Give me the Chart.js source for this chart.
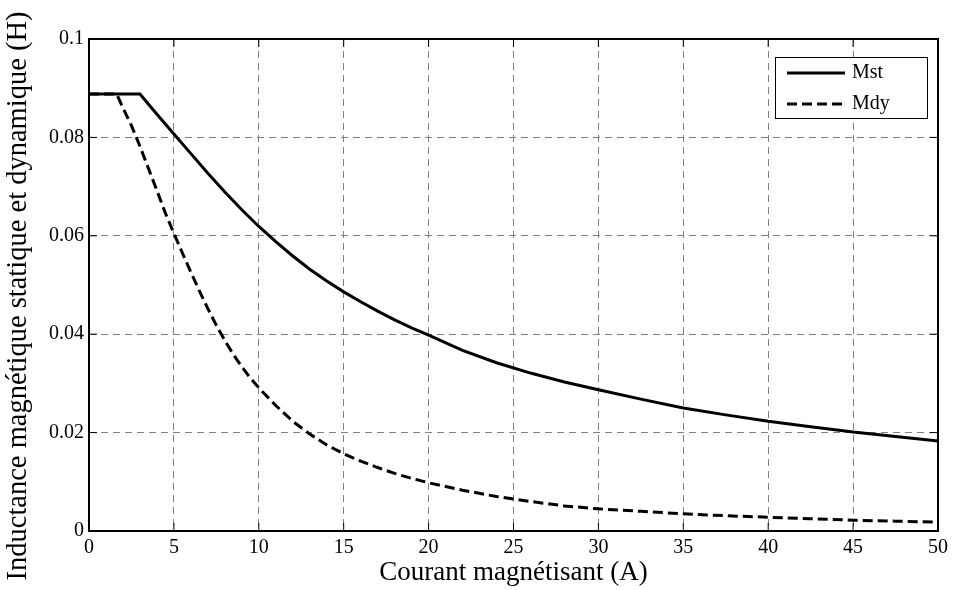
<!DOCTYPE html>
<html>
<head>
<meta charset="utf-8">
<script src="https://cdn.jsdelivr.net/npm/chart.js@4.4.1/dist/chart.umd.min.js"></script>
<style>
  html, body { margin: 0; padding: 0; background: #ffffff; }
  #wrap { width: 953px; height: 590px; position: relative; }
</style>
</head>
<body>
<div id="wrap"><canvas id="c"></canvas></div>
<script>
// ---- Data ----
const mstX = [0, 3, 4, 5, 6, 7, 8, 9, 10, 11, 12, 13, 14, 15, 16, 17, 18, 19, 20, 22, 24, 26, 28, 30, 32.5, 35, 37.5, 40, 42.5, 45, 47.5, 50];
const mstY = [0.0888, 0.0888, 0.0847, 0.0807, 0.0767, 0.0727, 0.0689, 0.0653, 0.0619, 0.0588, 0.0559, 0.0532, 0.0508, 0.0486, 0.0466, 0.0447, 0.0429, 0.0413, 0.0398, 0.0367, 0.0342, 0.0321, 0.0303, 0.0287, 0.0268, 0.0250, 0.0236, 0.0223, 0.0212, 0.0201, 0.0192, 0.0183];

const mdyX = [0, 1.63, 2, 2.5, 3, 3.5, 4, 4.5, 5, 5.5, 6, 6.5, 7, 7.5, 8, 8.5, 9, 9.5, 10, 11, 12, 13, 14, 15, 16, 17, 18, 19, 20, 22, 24, 26, 28, 30, 32.5, 35, 37.5, 40, 42.5, 45, 47.5, 50];
const mdyY = [0.0888, 0.0888, 0.0860, 0.0824, 0.0782, 0.0737, 0.0692, 0.0646, 0.0605, 0.0565, 0.0526, 0.0488, 0.0452, 0.0418, 0.0387, 0.0359, 0.0334, 0.0311, 0.0291, 0.0255, 0.0223, 0.0197, 0.0175, 0.0157, 0.0142, 0.0129, 0.0117, 0.0107, 0.0098, 0.0083, 0.0070, 0.0060, 0.0051, 0.0045, 0.0040, 0.0035, 0.0031, 0.0028, 0.0025, 0.0022, 0.0020, 0.0018];

const seriesNames = ['Mst', 'Mdy'];
const xTickValues = [0, 5, 10, 15, 20, 25, 30, 35, 40, 45, 50];
const yTickValues = [0, 0.02, 0.04, 0.06, 0.08, 0.1];
const xTitle = 'Courant magnétisant (A)';
const yTitle = 'Inductance magnétique statique et dynamique (H)';

const FONT = "'Liberation Serif', 'Times New Roman', serif";

function toPoints(xs, ys) { return xs.map((x, i) => ({ x: x, y: ys[i] })); }

// Frame, inner ticks, y title and legend box
const framePlugin = {
  id: 'frame',
  afterDraw(chart) {
    const { ctx, chartArea: a } = chart;
    const xs = chart.scales.x, ys = chart.scales.y;
    ctx.save();
    ctx.strokeStyle = '#000';
    ctx.lineWidth = 2;
    ctx.setLineDash([]);
    ctx.strokeRect(a.left, a.top, a.right - a.left, a.bottom - a.top);
    ctx.lineWidth = 1;
    const tl = 8;
    xs.ticks.forEach(t => {
      const px = xs.getPixelForValue(t.value);
      ctx.beginPath();
      ctx.moveTo(px, a.bottom); ctx.lineTo(px, a.bottom - tl);
      ctx.moveTo(px, a.top); ctx.lineTo(px, a.top + tl);
      ctx.stroke();
    });
    ys.ticks.forEach(t => {
      const py = ys.getPixelForValue(t.value);
      ctx.beginPath();
      ctx.moveTo(a.left, py); ctx.lineTo(a.left + tl, py);
      ctx.moveTo(a.right, py); ctx.lineTo(a.right - tl, py);
      ctx.stroke();
    });

    // y axis title
    ctx.save();
    ctx.translate(19, 296);
    ctx.rotate(-Math.PI / 2);
    ctx.font = "28.5px " + FONT;
    ctx.fillStyle = '#000';
    ctx.textAlign = 'center';
    ctx.textBaseline = 'middle';
    ctx.fillText(yTitle, 0, 0);
    ctx.restore();

    // legend
    const bx = 775, by = 57, bw = 152, bh = 61;
    ctx.fillStyle = '#fff';
    ctx.fillRect(bx, by, bw, bh);
    ctx.lineWidth = 1;
    ctx.strokeStyle = '#000';
    ctx.strokeRect(bx + 0.5, by + 0.5, bw, bh);
    ctx.font = "20px " + FONT;
    ctx.fillStyle = '#000';
    ctx.textBaseline = 'middle';
    ctx.textAlign = 'left';
    chart.data.datasets.forEach((ds, i) => {
      const y = by + 16 + i * 31;
      ctx.beginPath();
      ctx.lineWidth = 3;
      ctx.setLineDash(ds.borderDash || []);
      ctx.moveTo(bx + 12, y); ctx.lineTo(bx + 70, y);
      ctx.stroke();
      ctx.setLineDash([]);
      ctx.fillText(ds.label, bx + 77, y);
    });
    ctx.restore();
  }
};

new Chart(document.getElementById('c'), {
  type: 'scatter',
  data: {
    datasets: [
      {
        label: seriesNames[0],
        data: toPoints(mstX, mstY),
        showLine: true,
        borderColor: '#000',
        borderWidth: 3,
        pointRadius: 0,
        tension: 0,
        fill: false
      },
      {
        label: seriesNames[1],
        data: toPoints(mdyX, mdyY),
        showLine: true,
        borderColor: '#000',
        borderWidth: 3,
        borderDash: [10, 5],
        pointRadius: 0,
        tension: 0,
        fill: false
      }
    ]
  },
  options: {
    responsive: true,
    maintainAspectRatio: false,
    animation: false,
    layout: { padding: { left: 0, top: 39, right: 13, bottom: 0 } },
    plugins: {
      legend: { display: false },
      tooltip: { enabled: false }
    },
    scales: {
      x: {
        type: 'linear',
        min: 0, max: 50,
        afterBuildTicks(scale) { scale.ticks = xTickValues.map(v => ({ value: v })); },
        afterFit(scale) { scale.height = 59; },
        grid: { color: '#808080', lineWidth: 1, drawTicks: false },
        border: { display: false, dash: [7, 5] },
        ticks: {
          padding: 5,
          color: '#000',
          font: { family: FONT, size: 20 },
          maxRotation: 0,
          callback: v => String(+Number(v).toFixed(2))
        },
        title: {
          display: true,
          text: xTitle,
          color: '#000',
          font: { family: FONT, size: 27 },
          padding: { top: 0, bottom: 1 }
        }
      },
      y: {
        type: 'linear',
        min: 0, max: 0.1,
        afterBuildTicks(scale) { scale.ticks = yTickValues.map(v => ({ value: v })); },
        afterFit(scale) { scale.width = 89; },
        grid: { color: '#808080', lineWidth: 1, drawTicks: false },
        border: { display: false, dash: [7, 5] },
        ticks: {
          padding: 5,
          color: '#000',
          font: { family: FONT, size: 20 },
          callback: v => String(+Number(v).toFixed(2))
        },
        title: { display: false }
      }
    }
  },
  plugins: [framePlugin]
});
</script>
</body>
</html>
